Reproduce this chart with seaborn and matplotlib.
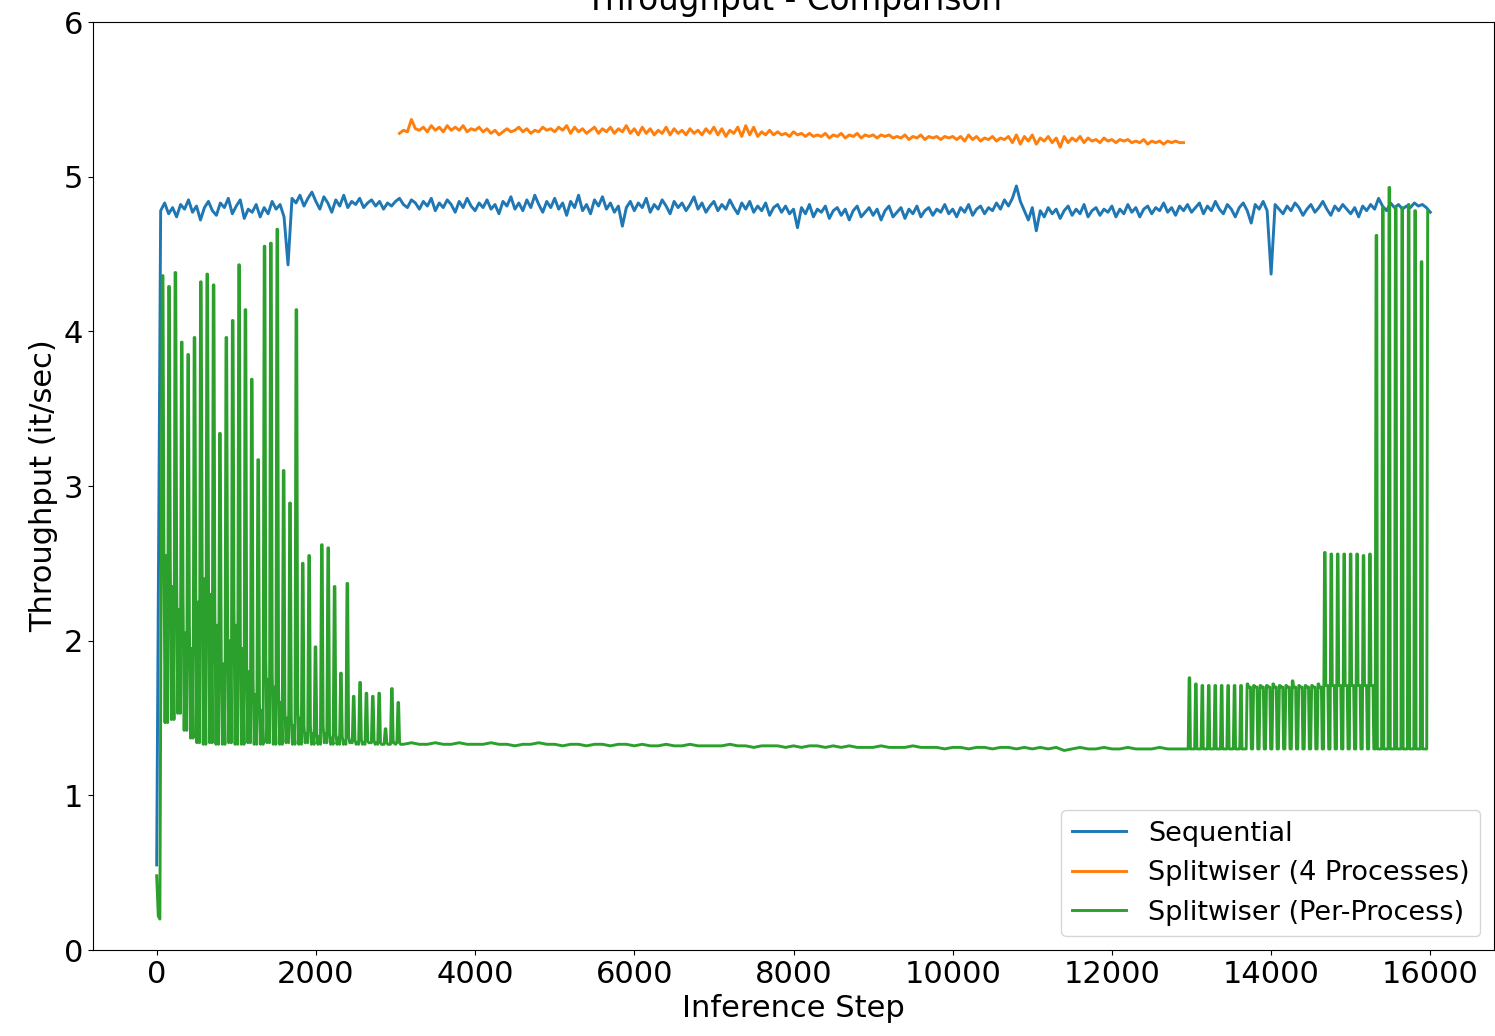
import matplotlib
matplotlib.use("Agg")
import matplotlib.pyplot as plt
import numpy as np
import pandas as pd
import seaborn as sns

SERIES = ["Sequential", "Splitwiser (4 Processes)", "Splitwiser (Per-Process)"]
COLORS = ["#1f77b4", "#ff7f0e", "#2ca02c"]

# ---- Sequential: one reading every 50 inference steps, 0 .. 16000 ----
seq_step = 50
seq_values = [
    0.55, 4.78, 4.83, 4.76, 4.80, 4.74, 4.82, 4.79, 4.85, 4.77, 4.81, 4.72, 4.80, 4.84, 4.78, 4.75, 4.83, 4.80, 4.86, 4.76,
    4.81, 4.85, 4.73, 4.79, 4.77, 4.82, 4.74, 4.80, 4.76, 4.84, 4.79, 4.82, 4.74, 4.43, 4.86, 4.83, 4.88, 4.81, 4.86, 4.90,
    4.84, 4.79, 4.87, 4.83, 4.77, 4.85, 4.81, 4.88, 4.80, 4.84, 4.82, 4.86, 4.80, 4.83, 4.85, 4.81, 4.84, 4.79, 4.83, 4.81,
    4.84, 4.86, 4.82, 4.80, 4.85, 4.83, 4.79, 4.84, 4.81, 4.86, 4.78, 4.83, 4.80, 4.85, 4.82, 4.77, 4.84, 4.80, 4.86, 4.81,
    4.78, 4.83, 4.80, 4.85, 4.79, 4.82, 4.76, 4.84, 4.81, 4.87, 4.79, 4.83, 4.78, 4.85, 4.80, 4.88, 4.82, 4.77, 4.84, 4.80,
    4.86, 4.79, 4.83, 4.75, 4.84, 4.80, 4.88, 4.78, 4.82, 4.76, 4.85, 4.81, 4.87, 4.79, 4.83, 4.77, 4.81, 4.68, 4.80, 4.84,
    4.78, 4.83, 4.80, 4.86, 4.77, 4.82, 4.79, 4.85, 4.81, 4.76, 4.84, 4.80, 4.83, 4.78, 4.82, 4.87, 4.79, 4.83, 4.77, 4.81,
    4.84, 4.78, 4.82, 4.79, 4.85, 4.80, 4.76, 4.83, 4.79, 4.84, 4.77, 4.81, 4.78, 4.83, 4.75, 4.80, 4.82, 4.77, 4.81, 4.76,
    4.79, 4.67, 4.80, 4.76, 4.82, 4.74, 4.79, 4.77, 4.81, 4.73, 4.78, 4.80, 4.75, 4.79, 4.72, 4.78, 4.81, 4.74, 4.77, 4.80,
    4.75, 4.79, 4.72, 4.78, 4.81, 4.74, 4.77, 4.80, 4.73, 4.79, 4.76, 4.81, 4.74, 4.78, 4.80, 4.75, 4.79, 4.77, 4.82, 4.76,
    4.79, 4.74, 4.80, 4.77, 4.82, 4.75, 4.79, 4.81, 4.76, 4.80, 4.78, 4.83, 4.79, 4.85, 4.81, 4.86, 4.94, 4.84, 4.78, 4.72,
    4.80, 4.65, 4.78, 4.74, 4.80, 4.76, 4.79, 4.73, 4.78, 4.81, 4.75, 4.79, 4.76, 4.82, 4.74, 4.78, 4.80, 4.75, 4.79, 4.77,
    4.81, 4.74, 4.79, 4.76, 4.82, 4.77, 4.80, 4.74, 4.79, 4.81, 4.76, 4.80, 4.78, 4.83, 4.77, 4.80, 4.75, 4.81, 4.78, 4.82,
    4.77, 4.80, 4.83, 4.76, 4.81, 4.78, 4.84, 4.79, 4.76, 4.82, 4.79, 4.74, 4.80, 4.83, 4.78, 4.70, 4.82, 4.79, 4.84, 4.78,
    4.37, 4.82, 4.79, 4.76, 4.81, 4.78, 4.83, 4.80, 4.75, 4.79, 4.82, 4.77, 4.80, 4.84, 4.79, 4.75, 4.81, 4.78, 4.82, 4.79,
    4.76, 4.80, 4.74, 4.81, 4.78, 4.82, 4.79, 4.86, 4.81, 4.78, 4.83, 4.80, 4.82, 4.79, 4.81, 4.80, 4.83, 4.81, 4.82, 4.80,
    4.77,
]

# ---- Splitwiser, 4 processes combined: every 50 steps from step 3050 ----
split4_start = 3050
split4_step = 50
split4_values = [
    5.28, 5.30, 5.29, 5.37, 5.31, 5.30, 5.32, 5.29, 5.33, 5.30, 5.32, 5.29, 5.33, 5.30, 5.32, 5.30, 5.33, 5.29, 5.31,
    5.30, 5.32, 5.29, 5.31, 5.28, 5.30, 5.27, 5.29, 5.31, 5.29, 5.30, 5.32, 5.29, 5.31, 5.28, 5.30, 5.29, 5.32, 5.30, 5.31,
    5.29, 5.32, 5.30, 5.33, 5.28, 5.32, 5.29, 5.31, 5.28, 5.30, 5.32, 5.28, 5.31, 5.29, 5.32, 5.28, 5.31, 5.29, 5.33, 5.28,
    5.31, 5.27, 5.32, 5.28, 5.31, 5.27, 5.30, 5.28, 5.32, 5.27, 5.31, 5.28, 5.30, 5.27, 5.31, 5.28, 5.30, 5.27, 5.31, 5.28,
    5.32, 5.27, 5.31, 5.26, 5.30, 5.28, 5.32, 5.26, 5.33, 5.27, 5.32, 5.26, 5.29, 5.27, 5.30, 5.27, 5.29, 5.27, 5.28, 5.26,
    5.29, 5.27, 5.28, 5.26, 5.28, 5.26, 5.27, 5.26, 5.28, 5.25, 5.27, 5.26, 5.28, 5.25, 5.27, 5.26, 5.28, 5.25, 5.27, 5.26,
    5.27, 5.25, 5.27, 5.26, 5.27, 5.25, 5.26, 5.25, 5.27, 5.24, 5.26, 5.25, 5.27, 5.24, 5.26, 5.25, 5.26, 5.24, 5.26, 5.25,
    5.26, 5.24, 5.26, 5.23, 5.27, 5.24, 5.26, 5.23, 5.25, 5.24, 5.26, 5.23, 5.25, 5.24, 5.26, 5.22, 5.27, 5.21, 5.26, 5.23,
    5.27, 5.21, 5.25, 5.23, 5.26, 5.22, 5.25, 5.19, 5.26, 5.22, 5.25, 5.23, 5.26, 5.22, 5.25, 5.23, 5.24, 5.22, 5.25, 5.23,
    5.24, 5.22, 5.24, 5.23, 5.24, 5.22, 5.23, 5.22, 5.24, 5.21, 5.23, 5.22, 5.23, 5.21, 5.23, 5.22, 5.23, 5.22, 5.22,
]

# ---- Splitwiser, single process ----
# warm-up readings
pp_lead_steps = [0, 20, 40]
pp_lead_values = [0.48, 0.22, 0.20]

# start-up phase: one burst every 80 steps from step 71
pp_early_first = 71
pp_early_period = 80
pp_early_peaks = [
    4.36, 4.29, 4.38, 3.93, 3.85, 3.96, 4.32, 4.37, 4.30, 3.34,
    3.96, 4.07, 4.43, 4.14, 3.69, 3.17, 4.55, 4.57, 4.66, 3.10,
    2.89, 4.14, 2.50, 2.55, 1.96, 2.62, 2.60, 2.35, 1.79, 2.37,
    1.64, 1.73, 1.66, 1.64, 1.66, 1.43, 1.69, 1.60,
]
pp_early_mids = [
    2.60, 2.50, 2.45, 2.30, 2.10, 2.35, 2.50, 2.40, 2.20, 1.90,
    2.10, 2.20, 2.00, 1.85, 1.75, 1.60, 1.90, 1.80, 1.70, 1.55,
    1.50, 1.60, 1.45, 1.45, 1.40, 1.45, 1.40, 1.40, 1.38, 1.38,
    1.36, 1.36, 1.35, 1.35, 1.34, 1.34, 1.34, 1.34,
]
pp_early_troughs = [
    1.47, 1.49, 1.53, 1.42, 1.37, 1.34, 1.33, 1.34, 1.33, 1.33,
    1.34, 1.33, 1.33, 1.34, 1.33, 1.33, 1.34, 1.33, 1.33, 1.34,
    1.33, 1.33, 1.34, 1.33, 1.33, 1.34, 1.33, 1.33, 1.33, 1.34,
    1.33, 1.33, 1.34, 1.33, 1.33, 1.33, 1.34, 1.33,
]
# smaller secondary bumps between bursts
pp_early_bumps = [
    2.55, 2.35, 2.20, 2.05, 1.95, 2.25, 2.40, 2.30, 2.10, 1.85,
    2.00, 2.10, 1.95, 1.80, 1.65, 1.55, 1.75, 1.70, 1.60, 1.50,
    1.45, 1.50, 1.40, 1.40, 1.38, 1.40, 1.37, 1.37, 1.35, 1.35,
    1.34, 1.34, 1.34, 1.34, 1.33, 1.33, 1.33, 1.33,
]

# steady phase: every 100 steps from step 3100
pp_flat_start = 3100
pp_flat_step = 100
pp_flat_values = [
    1.33, 1.34, 1.33, 1.33, 1.34, 1.33, 1.33, 1.34, 1.33,
    1.33, 1.33, 1.34, 1.33, 1.33, 1.32, 1.33, 1.33, 1.34, 1.33,
    1.33, 1.32, 1.33, 1.33, 1.32, 1.33, 1.33, 1.32, 1.33, 1.33,
    1.32, 1.33, 1.32, 1.32, 1.33, 1.32, 1.32, 1.33, 1.32, 1.32,
    1.32, 1.32, 1.33, 1.32, 1.32, 1.31, 1.32, 1.32, 1.32, 1.31,
    1.32, 1.31, 1.32, 1.32, 1.31, 1.32, 1.31, 1.32, 1.31, 1.31,
    1.31, 1.32, 1.31, 1.31, 1.31, 1.32, 1.31, 1.31, 1.31, 1.30,
    1.31, 1.31, 1.30, 1.31, 1.31, 1.30, 1.31, 1.31, 1.30, 1.31,
    1.30, 1.31, 1.30, 1.31, 1.29, 1.30, 1.31, 1.30, 1.30, 1.31,
    1.30, 1.30, 1.31, 1.30, 1.30, 1.30, 1.31, 1.30, 1.30, 1.30,
]

# wind-down phase: one burst every 81 steps from step 12970
pp_late_first = 12970
pp_late_period = 81
pp_late_base = 1.30
pp_late_peaks = [
    1.76, 1.72, 1.71, 1.71, 1.71, 1.71, 1.71, 1.71, 1.71,
    1.72, 1.71, 1.71, 1.71, 1.72, 1.71, 1.71, 1.74, 1.71, 1.71, 1.71, 1.72,
    2.57, 2.56, 2.56, 2.56, 2.56, 2.56, 2.55, 2.56,
    4.62, 4.80, 4.93, 4.80, 4.80, 4.82, 4.78, 4.45, 4.78,
]
pp_late_shoulders = [
    1.30, 1.30, 1.30, 1.30, 1.30, 1.30, 1.30, 1.30, 1.30,
    1.70, 1.70, 1.70, 1.70, 1.70, 1.70, 1.70, 1.70, 1.70, 1.70, 1.70, 1.70,
    1.71, 1.71, 1.71, 1.71, 1.71, 1.71, 1.71, 1.71,
    1.30, 1.30, 1.30, 1.30, 1.30, 1.30, 1.30, 1.30, 1.30,
]

# ---- assemble long-form table ----
seq_x = np.arange(len(seq_values)) * seq_step
split4_x = split4_start + np.arange(len(split4_values)) * split4_step

pp_x = list(pp_lead_steps)
pp_y = list(pp_lead_values)
for k, (pk, md, tr, bp) in enumerate(zip(pp_early_peaks, pp_early_mids,
                                         pp_early_troughs, pp_early_bumps)):
    p = pp_early_first + k * pp_early_period
    pp_x += [p, p + 8, p + 20, p + 34, p + 50, p + 66]
    pp_y += [pk, pk, md, tr, bp, tr]
for k, v in enumerate(pp_flat_values):
    pp_x.append(pp_flat_start + k * pp_flat_step)
    pp_y.append(v)
for k, (pk, sh) in enumerate(zip(pp_late_peaks, pp_late_shoulders)):
    p = pp_late_first + k * pp_late_period
    pp_x += [p - 12, p, p + 8, p + 16, p + 42, p + 52]
    pp_y += [pp_late_base, pk, pk, sh, sh, pp_late_base]
# the run stops on the final burst
pp_x = pp_x[:-4]
pp_y = pp_y[:-4]

df = pd.concat([
    pd.DataFrame({"step": seq_x, "throughput": seq_values, "series": SERIES[0]}),
    pd.DataFrame({"step": split4_x, "throughput": split4_values, "series": SERIES[1]}),
    pd.DataFrame({"step": pp_x, "throughput": pp_y, "series": SERIES[2]}),
], ignore_index=True)

# ---- draw ----
fig = plt.figure(figsize=(14.95, 10.36), dpi=100)
ax = fig.add_axes([93 / 1495, 86 / 1036, 1401 / 1495, 928 / 1036])

sns.lineplot(
    data=df, x="step", y="throughput", hue="series",
    hue_order=SERIES, palette=COLORS,
    estimator=None, errorbar=None, sort=False,
    linewidth=2.1, ax=ax,
)

ax.set_xlim(-800, 16800)
ax.set_ylim(0, 6)
ax.set_xticks(np.arange(0, 16001, 2000))
ax.set_yticks(np.arange(0, 7, 1))
ax.tick_params(labelsize=22)
ax.set_xlabel("Inference Step", fontsize=22)
ax.set_ylabel("Throughput (it/sec)", fontsize=22)
ax.set_title("Throughput - Comparison", fontsize=23.5, pad=8.5)

handles, labels = ax.get_legend_handles_labels()
ax.legend(handles, labels, loc="lower right", fontsize=19.5, frameon=True)

fig.savefig("out.png", dpi=100)
